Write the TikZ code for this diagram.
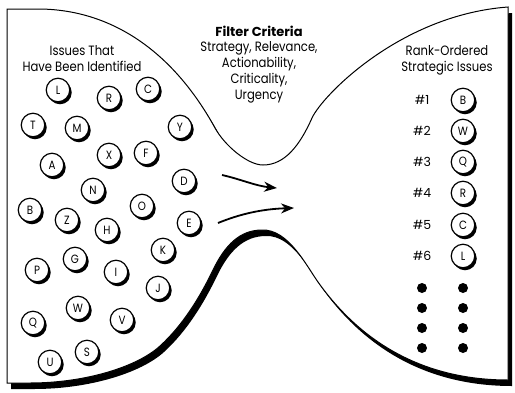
\documentclass[tikz,border=0pt]{standalone}
\usepackage{fontspec}
\setmainfont{Poppins}
\newfontfamily\headfont{Poppins}[FakeStretch=0.86]
\usetikzlibrary{shadows,arrows.meta}

% outline of the funnel-shaped panel, one closed path
\def\panelpath{
  (7,9) -- (40,9)
  .. controls (115,10) and (175,55) .. (215,128)
  .. controls (225,146) and (248,165) .. (263,165)
  .. controls (285,165) and (300,145) .. (312,118)
  .. controls (322,96) and (400,15) .. (508,7)
  -- (508,380)
  .. controls (430,380) and (365,348) .. (318,282)
  .. controls (306,265) and (288,229) .. (262,230)
  .. controls (240,230) and (225,245) .. (213,270)
  .. controls (200,297) and (183,325) .. (160,346)
  .. controls (137,367) and (85,383) .. (30,383)
  -- (7,383) -- cycle}

\begin{document}
\begin{tikzpicture}[x=1pt,y=-1pt,
  panelshadow/.style={fill=black},
  panel/.style={draw=black, line width=1pt, fill=white},
  issue/.style={circle, draw=black, line width=1.2pt, fill=white,
    minimum size=23.5pt, inner sep=0pt, font=\headfont\fontsize{12}{12}\selectfont,
    drop shadow={shadow xshift=2pt, shadow yshift=-2.5pt, opacity=1, fill=black}},
  rank/.style={font=\fontsize{12.5}{12.5}\selectfont, inner sep=0pt},
  heading/.style={align=center, inner sep=0pt, font=\headfont\fontsize{13.5}{16}\selectfont},
  flow/.style={line width=1.8pt, -{Stealth[length=13pt,width=10pt]}},
  more/.style={circle, fill=black, minimum size=10pt, inner sep=0pt}
]
\useasboundingbox (0,0) rectangle (515,392);

% panel with its shadow
\begin{scope}[shift={(4,6)}]
  \path[panelshadow] \panelpath;
\end{scope}
\path[panel] \panelpath;

% headings
\node[heading] (pool) at (82,59) {Issues That\\Have Been Identified};
\node[inner sep=0pt, font=\fontsize{13}{13}\selectfont\bfseries] (crit) at (259,31) {Filter Criteria};
\node[heading, anchor=north] (list) at (259,41) {Strategy, Relevance,\\Actionability,\\Criticality,\\Urgency};
\node[heading] (ranked) at (447,60) {Rank-Ordered\\Strategic Issues};

% identified issues
\node[issue] (iL) at (58,90) {L};
\node[issue] (iR) at (109,98) {R};
\node[issue] (iC) at (148,89) {C};
\node[issue] (iT) at (33,125) {T};
\node[issue] (iM) at (77,128) {M};
\node[issue] (iY) at (180,127) {Y};
\node[issue] (iX) at (109,155) {X};
\node[issue] (iF) at (146,153) {F};
\node[issue] (iA) at (52,165) {A};
\node[issue] (iD) at (184,181) {D};
\node[issue] (iN) at (93,190) {N};
\node[issue] (iB) at (30,210) {B};
\node[issue] (iZ) at (67,220) {Z};
\node[issue] (iO) at (142,206) {O};
\node[issue] (iH) at (107,230) {H};
\node[issue] (iE) at (189,223) {E};
\node[issue] (iK) at (163,250) {K};
\node[issue] (iG) at (75,259) {G};
\node[issue] (iP) at (37,270) {P};
\node[issue] (iI) at (116,272) {I};
\node[issue] (iJ) at (158,288) {J};
\node[issue] (iW) at (78,308) {W};
\node[issue] (iQ) at (33,323) {Q};
\node[issue] (iV) at (122,320) {V};
\node[issue] (iS) at (87,352) {S};
\node[issue] (iU) at (50,362) {U};

% flow through the filter
\coordinate (f1s) at (222,175);
\coordinate (f1e) at (277,188);
\coordinate (f2s) at (218,223);
\coordinate (f2e) at (294,208);
\draw[flow] (f1s) .. controls (240,179) and (256,186) .. (f1e);
\draw[flow] (f2s) .. controls (240,214) and (262,209) .. (f2e);

% ranked issues
\foreach \n/\l/\y in {1/B/100, 2/W/131, 3/Q/162, 4/R/193, 5/C/225, 6/L/256} {
  \node[rank] (h\n) at (422,\y) {\#\n};
  \node[issue] (r\n) at (463,\y) {\l};
}

% remaining ranks
\foreach \k/\y in {1/288, 2/308, 3/328, 4/348} {
  \node[more] (ma\k) at (422,\y) {};
  \node[more] (mb\k) at (463,\y) {};
}
\end{tikzpicture}
\end{document}
